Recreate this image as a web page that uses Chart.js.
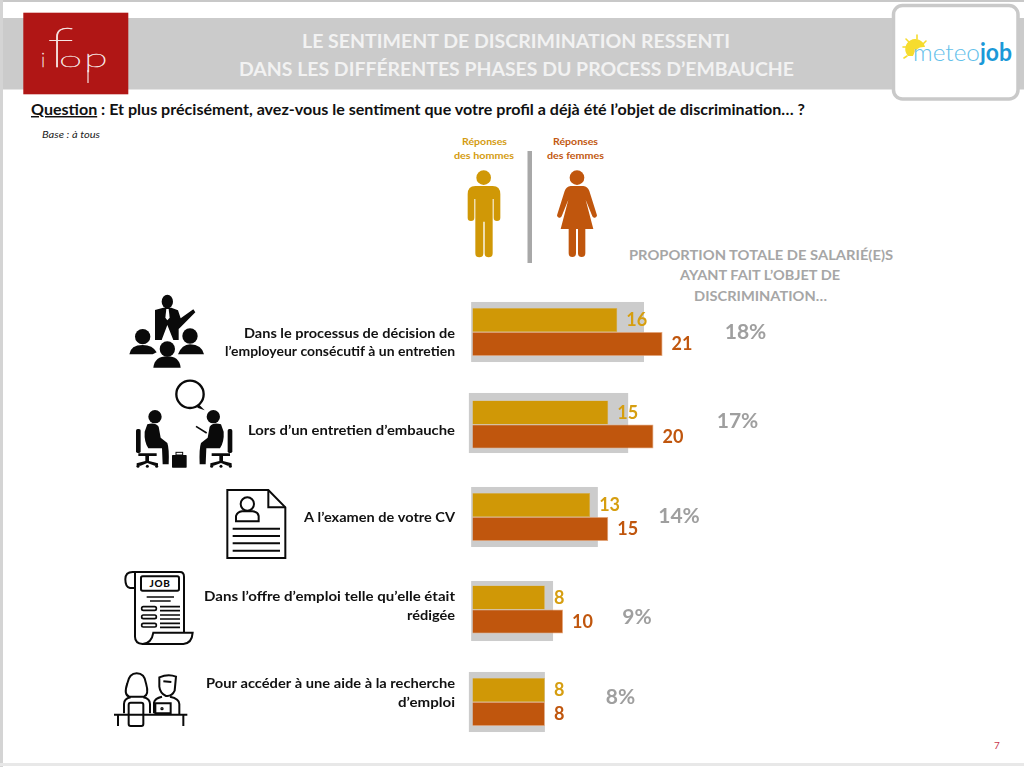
<!DOCTYPE html>
<html lang="fr"><head><meta charset="utf-8">
<style>
html,body{margin:0;padding:0;background:#fff;width:1024px;height:767px;overflow:hidden}
#deco,#c{position:absolute;left:0;top:0}
svg text{font-family:Lato,"Noto Sans",sans-serif}
</style>
<script src="https://cdn.jsdelivr.net/npm/chart.js@4"></script>
</head><body>
<svg id="deco" width="1024" height="767" viewBox="0 0 1024 767" xmlns="http://www.w3.org/2000/svg">
<!-- slide -->
<rect x="0" y="0" width="1024" height="2" fill="#c8c8c8"/>
<rect x="0" y="0" width="3" height="767" fill="#d4d4d4"/>
<rect x="0" y="763" width="1024" height="3" fill="#e8e8e8"/>
<rect x="3" y="18" width="1021" height="71.5" fill="#cbcbcb"/>
<!-- ifop -->
<rect x="23.3" y="12.7" width="105" height="81.6" fill="#b01615"/>
<g fill="#f6e6e4" stroke="#f6e6e4" stroke-width=".55" font-weight="100">
<text x="41" y="66.5" font-size="20">i</text>
<text font-size="56" transform="translate(47,66.5) scale(1.45,1)">f</text>
<text font-size="30" transform="translate(59,66.5) scale(1.4,.72)">o</text>
<text font-size="30" transform="translate(84,66.5) scale(1.45,.85)">p</text>
<path d="M88 70V83" stroke-width="1.200" fill="none"/>
</g>
<!-- logo -->
<rect x="893.5" y="5.5" width="124.5" height="93.5" rx="9" fill="#fff" stroke="#c9c9c9" stroke-width="3.5"/>
<g stroke="#f6dc2e" stroke-width="1.6" stroke-linecap="round"><path d="M903 47H907M906 39L909 42M917 35V39M926 41L923 44M907 56L904 58"/></g>
<path d="M908 56A10 10 0 1 1 925 47Q916 46 913 56Z" fill="#f6dc2e"/>
<text x="913" y="60.5" font-size="24" font-weight="300" fill="#62c0ea" textLength="67" lengthAdjust="spacingAndGlyphs">meteo</text>
<text x="980" y="60.5" font-size="24" font-weight="700" fill="#1b99d8" textLength="32" lengthAdjust="spacingAndGlyphs">job</text>
<!-- heading -->
<g fill="#f2f2f2" font-weight="700" font-size="18">
<text x="302" y="47.5" textLength="428" lengthAdjust="spacingAndGlyphs">LE SENTIMENT DE DISCRIMINATION RESSENTI</text>
<text x="239" y="75.5" textLength="555" lengthAdjust="spacingAndGlyphs">DANS LES DIFFÉRENTES PHASES DU PROCESS D’EMBAUCHE</text>
</g>
<text x="31" y="115" font-size="14.6" font-weight="700" fill="#111" textLength="774" lengthAdjust="spacingAndGlyphs"><tspan text-decoration="underline">Question</tspan> : Et plus précisément, avez-vous le sentiment que votre profil a déjà été l’objet de discrimination… ?</text>
<text x="42" y="137.5" font-size="9.2" font-style="italic" fill="#222" textLength="58" lengthAdjust="spacingAndGlyphs">Base : à tous</text>
<!-- gender legend -->
<g font-size="10" font-weight="700" fill="#d49c10">
<text x="462" y="145" textLength="45" lengthAdjust="spacingAndGlyphs">Réponses</text>
<text x="454" y="158.5" textLength="60" lengthAdjust="spacingAndGlyphs">des hommes</text></g>
<g font-size="10" font-weight="700" fill="#c2590f">
<text x="553" y="145" textLength="45" lengthAdjust="spacingAndGlyphs">Réponses</text>
<text x="547" y="158.5" textLength="57" lengthAdjust="spacingAndGlyphs">des femmes</text></g>
<rect x="527.5" y="151" width="4.5" height="112" fill="#a8a8a8"/>
<g transform="translate(420 125) scale(.33333)">
<g fill="#d09806">
<circle cx="191" cy="158" r="22"/>
<path d="M166 183H218Q241 183 241 208V278A10 10 0 0 1 221 278V222H218V385A12 12 0 0 1 194 385V290H190V385A12 12 0 0 1 166 385V222H163V278A10 10 0 0 1 143 278V208Q143 183 166 183Z"/>
</g>
<g fill="#c0560d">
<circle cx="471" cy="158" r="22"/>
<path d="M452 183H490Q503 184 508 198L530 268A7 7 0 0 1 517 274L497 224L520 312H496V385A11 11 0 0 1 474 385V312H468V385A11 11 0 0 1 446 385V312H422L445 224L425 274A7 7 0 0 1 412 268L434 198Q439 184 452 183Z"/>
</g>
</g>
<!-- right heading -->
<g fill="#a6a6a6" font-size="14" font-weight="700">
<text x="629" y="260" textLength="264" lengthAdjust="spacingAndGlyphs">PROPORTION TOTALE DE SALARIÉ(E)S</text>
<text x="680" y="280" textLength="160" lengthAdjust="spacingAndGlyphs">AYANT FAIT L’OBJET DE</text>
<text x="694" y="301" textLength="133" lengthAdjust="spacingAndGlyphs">DISCRIMINATION…</text>
</g>
<!-- icon 1 presenter + audience -->
<g transform="translate(110 285) scale(.33333)" fill="#0a0a0a">
<ellipse cx="172" cy="50" rx="17" ry="21"/>
<path d="M135 75L160 68H184L204 76L212 100L250 73L256 82L210 128L206 132V165H190L172 120L155 165H135Z"/>
<path d="M169 72H176L179 98L172 106L166 98Z" fill="#fff"/>
<circle cx="98" cy="155" r="23"/>
<path d="M58 208Q62 180 98 180Q128 180 140 202L128 208Z"/>
<circle cx="240" cy="153" r="23"/>
<path d="M204 208Q216 178 240 178Q276 180 282 208Z"/>
<circle cx="172" cy="192" r="23"/>
<path d="M130 248Q134 214 172 214Q208 214 212 248Z"/>
</g>
<!-- icon 2 interview -->
<g transform="translate(110 285) scale(.33333)">
<circle cx="240" cy="328" r="41" fill="#fff" stroke="#0a0a0a" stroke-width="7"/>
<path d="M266 358L284 376L262 368Z" fill="#0a0a0a"/>
<g id="seat" fill="#0a0a0a">
<circle cx="135" cy="395" r="20"/>
<path d="M112 418Q135 410 146 425L152 458L172 474Q178 490 176 538H158L156 490H115Q102 470 104 440Z"/>
<rect x="78" y="432" width="14" height="72" rx="5"/>
<path d="M85 505H140V513H117V528L144 535V542H134L112 534L92 542H80V535L106 528V513H85Z"/>
<circle cx="84" cy="544" r="4.500"/><circle cx="112" cy="544" r="4.500"/><circle cx="140" cy="544" r="4.500"/>
</g>
<use href="#seat" transform="translate(445 0) scale(-1 1)"/>
<path d="M258 424L290 444" stroke="#0a0a0a" stroke-width="5"/>
<rect x="186" y="510" width="44" height="38" rx="2" fill="#0a0a0a"/>
<rect x="198" y="502" width="20" height="8" fill="none" stroke="#0a0a0a" stroke-width="3"/>
</g>
<!-- icon 3 CV -->
<g transform="translate(100 480) scale(.33333)" fill="none" stroke="#0a0a0a" stroke-width="6">
<path d="M505 30H382V234H556V82Z"/><path d="M505 30V82H556"/>
<circle cx="442" cy="72" r="20"/>
<path d="M408 124V108Q412 96 426 94H458Q474 96 476 108V124Z"/>
<path d="M398 146H540M398 168H540M398 190H540M398 212H540"/>
</g>
<!-- icon 4 JOB -->
<g transform="translate(100 480) scale(.33333)" fill="none" stroke="#0a0a0a" stroke-width="6">
<path d="M105 324H90Q76 322 76 298Q76 276 98 276H240Q252 276 252 290V456"/>
<path d="M105 292V300M105 278V470Q105 490 128 492Q155 490 160 458H278Q276 490 250 492H128"/>
<rect x="123" y="289" width="114" height="43" rx="5"/>
<text x="180" y="322" font-size="30" font-weight="900" fill="#0a0a0a" stroke="none" text-anchor="middle" letter-spacing="2">JOB</text>
<path d="M140 351H222M150 363H212M180 380H240M180 392H240M180 405H240M180 417H240M180 430H240M180 442H240" stroke-width="5"/>
<rect x="125" y="380" width="44" height="11" rx="5" stroke-width="5"/>
<rect x="125" y="405" width="44" height="11" rx="5" stroke-width="5"/>
<rect x="125" y="430" width="44" height="11" rx="5" stroke-width="5"/>
</g>
<!-- icon 5 couple -->
<g transform="translate(100 480) scale(.33333)" fill="none" stroke="#0a0a0a" stroke-width="6">
<path d="M88 650Q70 645 82 610Q88 580 110 580Q134 580 138 610Q148 645 132 650Z"/>
<path d="M72 700V672Q72 656 92 652M130 652Q150 656 150 672V700"/>
<rect x="86" y="668" width="44" height="70" rx="6" fill="#fff"/>
<path d="M178 592Q205 580 228 590L224 632Q216 650 198 648Q180 640 178 620Z"/>
<path d="M190 604L214 606"/>
<path d="M162 700V668Q164 655 186 650M210 650Q238 656 238 672V702"/>
<path d="M166 670H212V700H166Z"/>
<path d="M42 704H262M54 704V738M250 704V738"/>
<circle cx="186" cy="686" r="2"/>
</g>
<!-- page number -->
<text x="994" y="749" font-size="10" fill="#c8364f">7</text>
</svg>
<canvas id="c" width="1024" height="767"></canvas>
<script>
/* ---- data ---- */
const categoryLines = [
  ["Dans le processus de décision de", "l’employeur consécutif à un entretien"],
  ["Lors d’un entretien d’embauche"],
  ["A l’examen de votre CV"],
  ["Dans l’offre d’emploi telle qu’elle était", "rédigée"],
  ["Pour accéder à une aide à la recherche", "d’emploi"]
];
const hommes = [16, 15, 13, 8, 8];
const femmes = [21, 20, 15, 10, 8];
const totaux = [18, 17, 14, 9, 8];
const bandStart = [-0.15, -0.4, -0.15, -0.15, -0.4];
const bandEnd = [18.95, 17.2, 13.85, 8.9, 8.0];

/* ---- layout & style ---- */
const GOLD = "#d09806", ORANGE = "#c0560d", BAND = "#cccccc", GREY = "#9f9f9f";
const labelYOffset = [10.5, 5.5, 0.3, -3.7, -8.7];
const labelLineWidths = [[211, 230], [207], [151], [251, 48], [249, 57]];
const totalCenterX = [745.5, 737.5, 679, 637, 620.5];
const totalBaselineOffset = [7, 3.2, 5.7, 14.8, 2];
const bandCenterShift = [0, -1.5, 0, 1.5, 0];
const bandHeightShare = 0.649;
const FONT = 'Lato, "Noto Sans", sans-serif';

const slidePlugin = {
  id: "slideText",
  beforeDatasetsDraw(chart) {
    // grey backdrop behind each pair of bars
    const ctx = chart.ctx, x = chart.scales.x, y = chart.scales.y;
    const h = (y.getPixelForValue(1) - y.getPixelForValue(0)) * bandHeightShare;
    ctx.save();
    ctx.fillStyle = BAND;
    bandEnd.forEach((e, i) => {
      const x0 = x.getPixelForValue(bandStart[i]);
      ctx.fillRect(x0, y.getPixelForValue(i) + bandCenterShift[i] - h / 2, x.getPixelForValue(e) - x0, h);
    });
    ctx.restore();
  },
  afterDatasetsDraw(chart) {
    const ctx = chart.ctx, y = chart.scales.y;
    ctx.save();
    // category labels, fitted to the measured line widths
    ctx.font = "700 14px " + FONT;
    ctx.fillStyle = "#111";
    ctx.textAlign = "right";
    ctx.textBaseline = "middle";
    categoryLines.forEach((lines, i) => {
      const c = y.getPixelForValue(i) + labelYOffset[i];
      lines.forEach((t, k) => {
        const sx = labelLineWidths[i][k] / ctx.measureText(t).width;
        ctx.save();
        ctx.translate(455, c + (k - (lines.length - 1) / 2) * 18.8);
        ctx.scale(sx, 1);
        ctx.fillText(t, 0, 0);
        ctx.restore();
      });
    });
    // values at the bar ends
    ctx.font = "700 18px " + FONT;
    ctx.textAlign = "left";
    [0, 1].forEach(d => {
      ctx.fillStyle = d === 0 ? "#d69e10" : ORANGE;
      chart.getDatasetMeta(d).data.forEach((el, i) => {
        ctx.fillText(String(chart.data.datasets[d].data[i]), el.x + 9, el.y + 0.5);
      });
    });
    // overall proportion
    ctx.font = "700 21px " + FONT;
    ctx.fillStyle = GREY;
    ctx.textAlign = "center";
    ctx.textBaseline = "alphabetic";
    totaux.forEach((v, i) => {
      ctx.fillText(v + "%", totalCenterX[i], y.getPixelForValue(i) + totalBaselineOffset[i]);
    });
    ctx.restore();
  }
};

new Chart(document.getElementById("c"), {
  type: "bar",
  data: {
    labels: categoryLines.map(l => l.join(" ")),
    datasets: [
      { label: "Réponses des hommes", data: hommes,
        backgroundColor: GOLD, borderColor: "#deb65a", borderWidth: 0.6,
        categoryPercentage: 0.519, barPercentage: 1 },
      { label: "Réponses des femmes", data: femmes,
        backgroundColor: ORANGE, borderColor: "#e8ab80", borderWidth: 0.8,
        categoryPercentage: 0.519, barPercentage: 1 }
    ]
  },
  plugins: [slidePlugin],
  options: {
    indexAxis: "y",
    responsive: false,
    animation: false,
    layout: { padding: { left: 463.45, right: 189.5, top: 285.75, bottom: 18.75 } },
    plugins: { legend: { display: false }, title: { display: false }, tooltip: { enabled: false } },
    scales: {
      x: { type: "linear", min: -1, max: 40, display: false, grid: { display: false } },
      y: { type: "category", display: false, offset: true, grid: { display: false } }
    }
  }
});
</script>
</body></html>
